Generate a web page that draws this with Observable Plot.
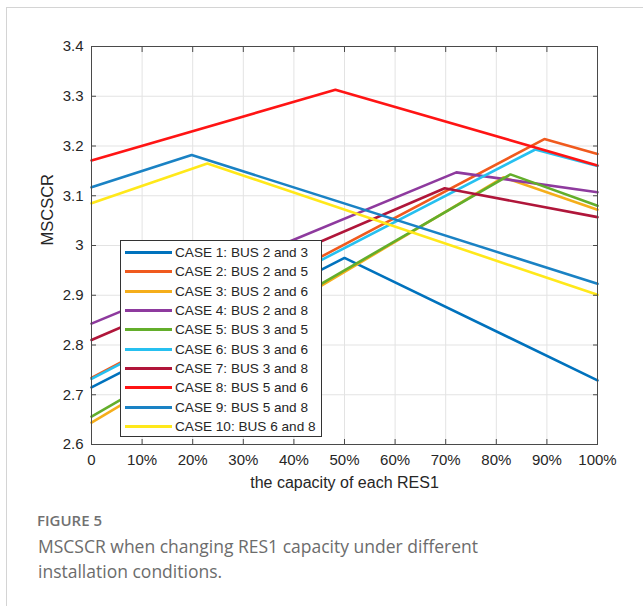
<!DOCTYPE html>
<html>
<head>
<meta charset="utf-8">
<script src="https://cdn.jsdelivr.net/npm/d3@7"></script>
<script src="https://cdn.jsdelivr.net/npm/@observablehq/plot@0.6"></script>
<style>
  body { margin: 0; background: #fff; }
  #wrap { position: relative; width: 643px; height: 606px; overflow: hidden; }
  #card { position: absolute; left: 6px; top: 7px; right: -2px; bottom: -2px; border-left: 1px solid #d4d4d4; border-top: 1px solid #d4d4d4; }
  #chart { position: absolute; left: 0; top: 0; }
  #legend { position: absolute; left: 120px; top: 240px; width: 202px; height: 197px; background: #fff; border: 1px solid #333; box-sizing: border-box; font-family: "Liberation Sans", Arial, sans-serif; font-size: 13.6px; color: #262626; }
  .item { position: absolute; left: 0; height: 19px; line-height: 19px; white-space: nowrap; }
  .swatch { position: absolute; left: 4px; top: 8px; width: 47px; height: 3px; }
  .lab { position: absolute; left: 54px; top: 0; }
  #fig { position: absolute; left: 37px; top: 510px; font-family: "Open Sans", sans-serif; font-weight: 600; font-size: 15px; line-height: 20px; color: #717171; }
  #cap { position: absolute; left: 38px; top: 534px; width: 490px; font-family: "Open Sans", sans-serif; font-size: 17.5px; line-height: 25px; color: #6c6c6c; }
</style>
</head>
<body>
<div id="wrap">
  <div id="card"></div>
  <div id="chart"></div>
  <div id="legend"></div>
  <div id="fig">FIGURE 5</div>
  <div id="cap">MSCSCR when changing RES1 capacity under different installation conditions.</div>
</div>
<script>
const cases = [
  "CASE 1: BUS 2 and 3", "CASE 2: BUS 2 and 5", "CASE 3: BUS 2 and 6",
  "CASE 4: BUS 2 and 8", "CASE 5: BUS 3 and 5", "CASE 6: BUS 3 and 6",
  "CASE 7: BUS 3 and 8", "CASE 8: BUS 5 and 6", "CASE 9: BUS 5 and 8",
  "CASE 10: BUS 6 and 8"
];
const colors = ["#0072BD", "#F05A1E", "#F5AE1B", "#8E3A9E", "#63AE2B", "#26C0F0", "#B0163A", "#FF1414", "#1A82C4", "#FFE81A"];
// capacity (%) where each curve breaks
const peakCapacity = [50, 89.5, 81.4, 72.1, 82.8, 87.7, 69.8, 48.2, 19.8, 22.9];
// MSCSCR at 0 %, at the break point, and at 100 %
const valueAt0    = [2.715, 2.734, 2.644, 2.843, 2.656, 2.732, 2.810, 3.171, 3.117, 3.085];
const valueAtPeak = [2.975, 3.214, 3.137, 3.147, 3.143, 3.193, 3.115, 3.313, 3.182, 3.165];
const valueAt100  = [2.729, 3.184, 3.072, 3.107, 3.080, 3.160, 3.057, 3.161, 2.923, 2.901];
const xTicks = [0, 10, 20, 30, 40, 50, 60, 70, 80, 90, 100];
const yTicks = [2.6, 2.7, 2.8, 2.9, 3.0, 3.1, 3.2, 3.3, 3.4];

const data = [];
cases.forEach((c, i) => {
  data.push({case: c, color: colors[i], x: 0, y: valueAt0[i]});
  data.push({case: c, color: colors[i], x: peakCapacity[i], y: valueAtPeak[i]});
  data.push({case: c, color: colors[i], x: 100, y: valueAt100[i]});
});

const axisColor = "#4a4a4a";
const blank = () => "";
const chart = Plot.plot({
  width: 643,
  height: 500,
  marginLeft: 91,
  marginRight: 46,
  marginTop: 46,
  marginBottom: 56,
  style: {fontFamily: "'Liberation Sans', Arial, sans-serif", fontSize: "15px", color: "#262626", background: "transparent"},
  x: {domain: [0, 100]},
  y: {domain: [2.6, 3.4]},
  color: {type: "identity"},
  marks: [
    Plot.gridX(xTicks, {stroke: "#e3e3e3", strokeOpacity: 1}),
    Plot.gridY(yTicks, {stroke: "#e3e3e3", strokeOpacity: 1}),
    Plot.line(data, {x: "x", y: "y", z: "case", stroke: "color", strokeWidth: 2.6, strokeLinejoin: "miter"}),
    Plot.frame({stroke: axisColor}),
    Plot.axisX(xTicks, {anchor: "bottom", tickSize: 5, dy: -5, tickFormat: blank, label: null, stroke: axisColor}),
    Plot.axisX(xTicks, {anchor: "top", tickSize: 5, dy: 5, tickFormat: blank, label: null, stroke: axisColor}),
    Plot.axisY(yTicks, {anchor: "left", tickSize: 5, dx: 5, tickFormat: blank, label: null, stroke: axisColor}),
    Plot.axisY(yTicks, {anchor: "right", tickSize: 5, dx: -5, tickFormat: blank, label: null, stroke: axisColor}),
    Plot.axisX(xTicks, {anchor: "bottom", tickSize: 0, tickPadding: 10, fontSize: 15, tickFormat: d => d === 0 ? "0" : d + "%", label: null, fill: "#262626"}),
    Plot.axisY(yTicks, {anchor: "left", tickSize: 0, tickPadding: 8, fontSize: 15, tickFormat: d => String(d), label: null, fill: "#262626"}),
    Plot.text(["the capacity of each RES1"], {frameAnchor: "bottom", dy: 43, fontSize: 16, fill: "#262626"}),
    Plot.text(["MSCSCR"], {frameAnchor: "left", dx: -44, rotate: -90, fontSize: 16.5, fill: "#262626"})
  ]
});
document.getElementById("chart").appendChild(chart);

const legend = document.getElementById("legend");
cases.forEach((c, i) => {
  const item = document.createElement("div");
  item.className = "item";
  item.style.top = (2 + i * 19.35) + "px";
  item.innerHTML = `<span class="swatch" style="background:${colors[i]}"></span><span class="lab">${c}</span>`;
  legend.appendChild(item);
});
</script>
</body>
</html>
